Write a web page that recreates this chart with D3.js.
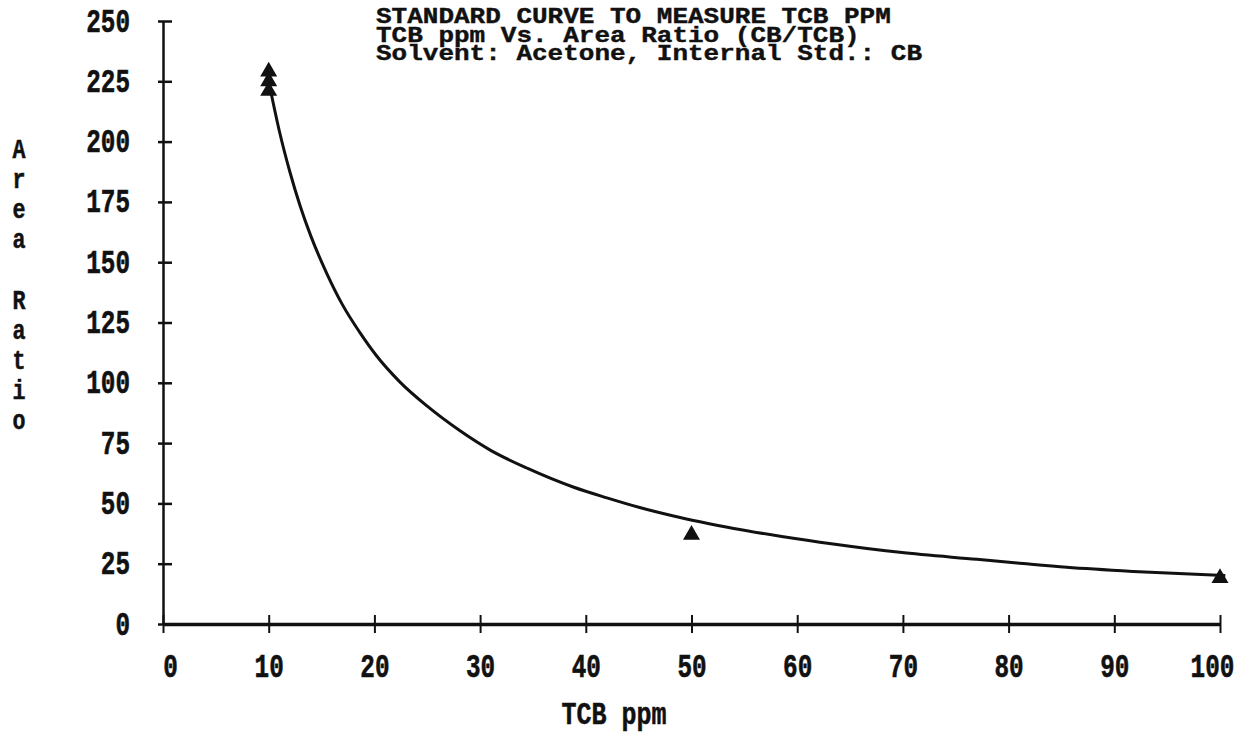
<!DOCTYPE html>
<html>
<head>
<meta charset="utf-8">
<script src="https://cdn.jsdelivr.net/npm/d3@7"></script>
<style>
  body { margin: 0; background: #fff; }
  text { font-family: "Liberation Mono", "DejaVu Sans Mono", monospace; font-weight: bold; fill: #111; }
</style>
</head>
<body>
<div id="chart-area"></div>
<script>
// data
const xTicks = [0, 10, 20, 30, 40, 50, 60, 70, 80, 90, 100]
const yTicks = [0, 25, 50, 75, 100, 125, 150, 175, 200, 225, 250]

// measured standards
const ptX = [10, 10, 10, 50, 100]
const ptY = [229, 225, 221, 37, 19]

// fitted curve, traced from the print
const curveX = [10, 11, 12, 13, 14, 15.5, 17, 18.6, 20.2, 22.4, 25, 28, 31, 34.5, 38.8, 42, 45.1, 48.3, 50.8, 54, 58.7, 63.4, 69.7, 77, 80.8, 85.5, 91.8, 99.3, 100.5]
const curveY = [225, 204.5, 187.5, 173, 160.7, 145.3, 132.2, 121, 111.2, 100.4, 90.3, 80.4, 72, 64.5, 56.8, 52.3, 48.3, 44.8, 42.4, 39.6, 36.2, 33.2, 29.7, 26.8, 25.3, 23.5, 21.8, 20.3, 20.1]

const titleLines = [
  "STANDARD CURVE TO MEASURE TCB PPM",
  "TCB ppm Vs. Area Ratio (CB/TCB)",
  "Solvent: Acetone, Internal Std.: CB"
]
const xLabel = "TCB ppm"
const yLabel = "Area Ratio"

const W = 1251
const H = 737
const CHAR = 14.6   // width of one glyph cell
const FS = 33

const svg = d3.select("#chart-area").append("svg")
  .attr("width", W)
  .attr("height", H)

const x = d3.scaleLinear().domain([0, 100]).range([163, 1220])
const y = d3.scaleLinear().domain([0, 250]).range([624, 21])

// x axis
const bottomAxis = d3.axisBottom(x).tickValues(xTicks).tickSizeOuter(0)
const gx = svg.append("g")
  .attr("transform", `translate(0, ${y(0)})`)
  .call(bottomAxis)
gx.select(".domain").attr("stroke", "#111").attr("stroke-width", 3.5)
gx.selectAll(".tick line").attr("y1", -9).attr("y2", 9).attr("stroke", "#111").attr("stroke-width", 2)
gx.selectAll(".tick text")
  .attr("y", 53).attr("dy", null)
  .attr("dx", d => d === 0 ? 7 : d === 100 ? -8 : 0)
  .attr("font-size", FS)
  .attr("textLength", d => String(d).length * CHAR)
  .attr("lengthAdjust", "spacingAndGlyphs")

// y axis
const leftAxis = d3.axisLeft(y).tickValues(yTicks).tickSizeOuter(0)
const gy = svg.append("g")
  .attr("transform", `translate(${x(0)}, 0)`)
  .call(leftAxis)
gy.select(".domain").attr("stroke", "#111").attr("stroke-width", 2.5)
gy.selectAll(".tick line").attr("x1", -5).attr("x2", 9).attr("stroke", "#111").attr("stroke-width", 2.5)
gy.selectAll(".tick text")
  .attr("x", -33).attr("dy", 10)
  .attr("font-size", FS)
  .attr("textLength", d => String(d).length * CHAR)
  .attr("lengthAdjust", "spacingAndGlyphs")
svg.selectAll("g").attr("font-family", null).attr("font-size", null)
svg.selectAll(".tick text")
  .attr("fill", "#111")
  .attr("stroke", "#111")
  .attr("stroke-width", 0.6)

// axis titles
svg.append("text")
  .attr("x", 614).attr("y", 724)
  .attr("text-anchor", "middle")
  .attr("font-size", 32)
  .attr("stroke", "#111").attr("stroke-width", 0.5)
  .attr("textLength", xLabel.length * 15)
  .attr("lengthAdjust", "spacingAndGlyphs")
  .text(xLabel)

svg.append("g").selectAll("text")
  .data(yLabel.split(""))
  .enter().append("text")
    .attr("x", 19)
    .attr("y", (d, i) => y(197) + i * (y(0) - y(12.5)) + 9)
    .attr("text-anchor", "middle")
    .attr("font-size", 27)
    .attr("stroke", "#111").attr("stroke-width", 0.5)
    .attr("textLength", d => d === " " ? 0 : 13)
    .attr("lengthAdjust", "spacingAndGlyphs")
    .text(d => d)

// title
svg.append("g").selectAll("text")
  .data(titleLines)
  .enter().append("text")
    .attr("x", 376)
    .attr("y", (d, i) => 23 + i * 18.5)
    .attr("font-size", 22)
    .attr("stroke", "#111").attr("stroke-width", 0.4)
    .attr("textLength", d => d.length * 15.6)
    .attr("lengthAdjust", "spacingAndGlyphs")
    .text(d => d)

// curve
const line = d3.line()
  .x(d => x(d[0]))
  .y(d => y(d[1]))
  .curve(d3.curveMonotoneX)
svg.append("path")
  .datum(d3.zip(curveX, curveY))
  .attr("d", line)
  .attr("fill", "none")
  .attr("stroke", "#111")
  .attr("stroke-width", 3)

// points
const tri = d3.symbol().type(d3.symbolTriangle).size(125)
svg.append("g").selectAll("path")
  .data(d3.zip(ptX, ptY))
  .enter().append("path")
    .attr("d", tri)
    .attr("transform", d => `translate(${x(d[0])}, ${y(d[1])})`)
    .attr("fill", "#111")
</script>
</body>
</html>
